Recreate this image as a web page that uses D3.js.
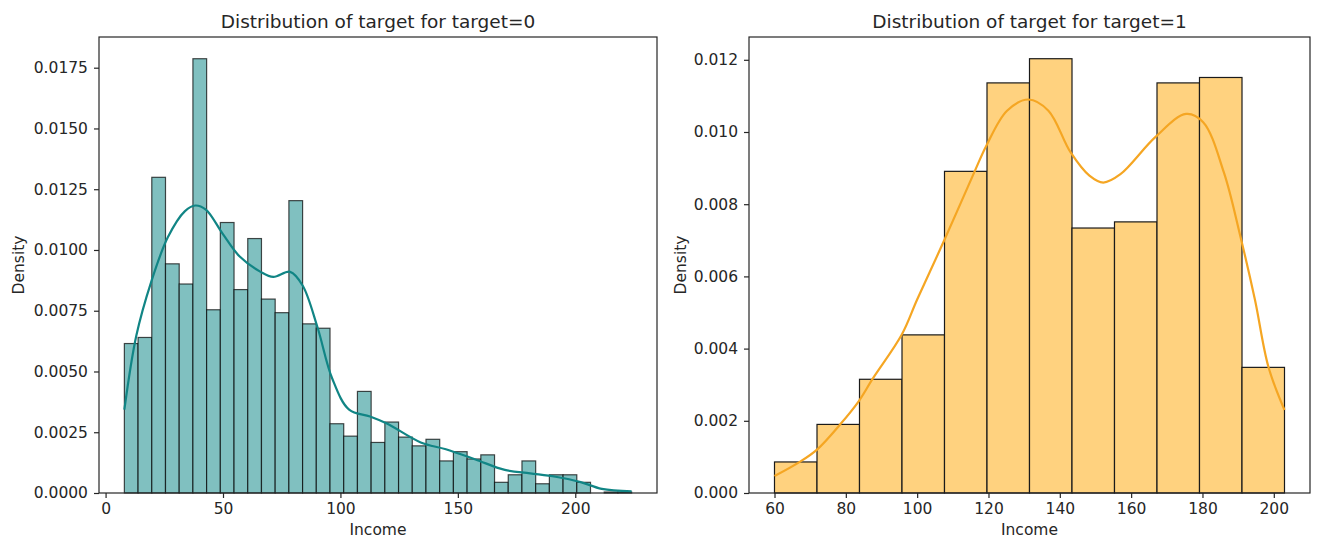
<!DOCTYPE html>
<html>
<head>
<meta charset="utf-8">
<script src="https://cdn.jsdelivr.net/npm/d3@7"></script>
<style>
  body { margin: 0; background: #ffffff; }
  text { font-family: "DejaVu Sans", sans-serif; fill: #262626; }
</style>
</head>
<body>
<svg id="chart" width="1317" height="540"></svg>
<script>

// Histogram for target=0 : 37 bins between the min and max income :
var incomeRange0 = [8, 224];
var binCount0 = 37;
var density0 = [0.00615, 0.0064, 0.01299, 0.00943, 0.0086, 0.01787, 0.00754, 0.01113,
                0.00837, 0.01047, 0.00798, 0.00742, 0.01203, 0.00696, 0.00678, 0.00285,
                0.00234, 0.00418, 0.00208, 0.00292, 0.0023, 0.00194, 0.00221, 0.00132,
                0.0017, 0.0014, 0.00157, 0.00044, 0.00075, 0.00132, 0.00038, 0.00075,
                0.00075, 0.00044, 0, 0.00004, 0.00004];

// KDE for target=0 :
var kdeX0 = [8, 13.1, 19.4, 26.5, 33.7, 38.2, 42.7, 49.9, 57, 66, 71.4, 78.6, 83.9, 90.2,
             96.5, 103.7, 112.6, 119.8, 134.2, 144.9, 157.5, 170, 180.8, 191.6, 202.3, 211.3, 224];
var kdeY0 = [0.00343, 0.00648, 0.00868, 0.01052, 0.01159, 0.01183, 0.01166, 0.01066, 0.00974,
             0.0091, 0.00889, 0.0091, 0.00854, 0.00683, 0.00471, 0.00343, 0.00315, 0.00286,
             0.00208, 0.0018, 0.00138, 0.00095, 0.00081, 0.00067, 0.00045, 0.00017, 0.00007];

// Histogram for target=1 : 12 bins :
var incomeRange1 = [60, 203];
var binCount1 = 12;
var density1 = [0.00086, 0.0019, 0.00315, 0.00438, 0.00891, 0.01136, 0.01203, 0.00734,
                0.00751, 0.01136, 0.01151, 0.00348];

var kdeX1 = [60, 67.2, 72, 78.5, 83.6, 87.5, 95.7, 100, 107.5, 116, 119.4, 125.2, 131.2,
             136.8, 143, 148.3, 152.2, 157, 166.7, 175.4, 180.2, 186, 190.6, 194.7, 198.5, 203];
var kdeY1 = [0.00047, 0.00087, 0.00121, 0.00191, 0.00254, 0.00316, 0.00439, 0.00536, 0.00698,
             0.00888, 0.00962, 0.01059, 0.0109, 0.01059, 0.00944, 0.00879, 0.0086, 0.00883,
             0.00985, 0.0105, 0.01027, 0.00888, 0.00712, 0.00536, 0.00349, 0.0023];

// Tick labels :
var xTicks0 = [0, 50, 100, 150, 200];
var yTicks0 = [0, 0.0025, 0.005, 0.0075, 0.01, 0.0125, 0.015, 0.0175];
var xTicks1 = [60, 80, 100, 120, 140, 160, 180, 200];
var yTicks1 = [0, 0.002, 0.004, 0.006, 0.008, 0.01, 0.012];

var svg = d3.select("#chart");

// drawPanel Function Definition :
// Draws one seaborn-like histplot with its kde line inside the given box.
function drawPanel(p) {

  var binWidth = (p.range[1] - p.range[0]) / p.count;
  var bins = p.density.map(function(d, i) {
    return { x0: p.range[0] + i*binWidth, x1: p.range[0] + (i+1)*binWidth, y: d };
  });

  // matplotlib default 5% margins on x, 5% on top with y sticky at zero :
  var pad = (p.range[1] - p.range[0]) * 0.05;
  var x = d3.scaleLinear().domain([p.range[0]-pad, p.range[1]+pad]).range([p.left, p.right]);
  var y = d3.scaleLinear().domain([0, d3.max(p.density)*1.05]).range([p.bottom, p.top]);

  var g = svg.append("g");

  g.selectAll("rect.bar")
   .data(bins)
   .enter().append("rect")
   .attr("class", "bar")
   .attr("x", function(d) { return x(d.x0); })
   .attr("y", function(d) { return y(d.y); })
   .attr("width", function(d) { return x(d.x1) - x(d.x0); })
   .attr("height", function(d) { return y(0) - y(d.y); })
   .style("fill", p.fill)
   .style("stroke", p.edge)
   .style("stroke-width", 1.2);

  var line = d3.line()
               .x(function(d) { return x(d[0]); })
               .y(function(d) { return y(d[1]); })
               .curve(d3.curveCatmullRom.alpha(0.5));

  g.append("path")
   .datum(d3.zip(p.kdeX, p.kdeY))
   .attr("d", line)
   .style("fill", "none")
   .style("stroke", p.lineColor)
   .style("stroke-width", 2.2);

  // Axes :
  var xAxis = g.append("g")
               .attr("transform", "translate(0," + p.bottom + ")")
               .call(d3.axisBottom(x).tickValues(p.xTicks).tickSize(5).tickPadding(5).tickFormat(d3.format("d")));
  var yAxis = g.append("g")
               .attr("transform", "translate(" + p.left + ",0)")
               .call(d3.axisLeft(y).tickValues(p.yTicks).tickSize(5).tickPadding(6).tickFormat(d3.format(p.yFormat)));

  [xAxis, yAxis].forEach(function(a) {
    a.select(".domain").remove();
    a.selectAll(".tick line").style("stroke", "#262626").style("stroke-width", 1.2);
    a.selectAll(".tick text").style("font-size", "15.5px").style("fill", "#262626")
     .style("font-family", "'DejaVu Sans', sans-serif");
  });

  g.append("rect")
   .attr("x", p.left)
   .attr("y", p.top)
   .attr("width", p.right - p.left)
   .attr("height", p.bottom - p.top)
   .style("fill", "none")
   .style("stroke", "#262626")
   .style("stroke-width", 1.2);

  g.append("text")
   .attr("x", (p.left + p.right)/2)
   .attr("y", 28)
   .attr("text-anchor", "middle")
   .style("font-size", "18.5px")
   .text(p.title);

  g.append("text")
   .attr("x", (p.left + p.right)/2)
   .attr("y", 535)
   .attr("text-anchor", "middle")
   .style("font-size", "15.5px")
   .text("Income");

  g.append("text")
   .attr("transform", "translate(" + p.yLabelX + "," + (p.top + p.bottom)/2 + ") rotate(-90)")
   .attr("text-anchor", "middle")
   .style("font-size", "15.5px")
   .text("Density");
}

drawPanel({
  left: 99, right: 657, top: 37, bottom: 493, yLabelX: 24,
  range: incomeRange0, count: binCount0, density: density0,
  kdeX: kdeX0, kdeY: kdeY0, xTicks: xTicks0, yTicks: yTicks0, yFormat: ".4f",
  fill: "#80c0c0", edge: "rgba(0,0,0,0.7)", lineColor: "#118585",
  title: "Distribution of target for target=0"
});

drawPanel({
  left: 749, right: 1310, top: 37, bottom: 493, yLabelX: 686,
  range: incomeRange1, count: binCount1, density: density1,
  kdeX: kdeX1, kdeY: kdeY1, xTicks: xTicks1, yTicks: yTicks1, yFormat: ".3f",
  fill: "#ffd27f", edge: "#1a1a1a", lineColor: "#f5a623",
  title: "Distribution of target for target=1"
});

</script>
</body>
</html>
